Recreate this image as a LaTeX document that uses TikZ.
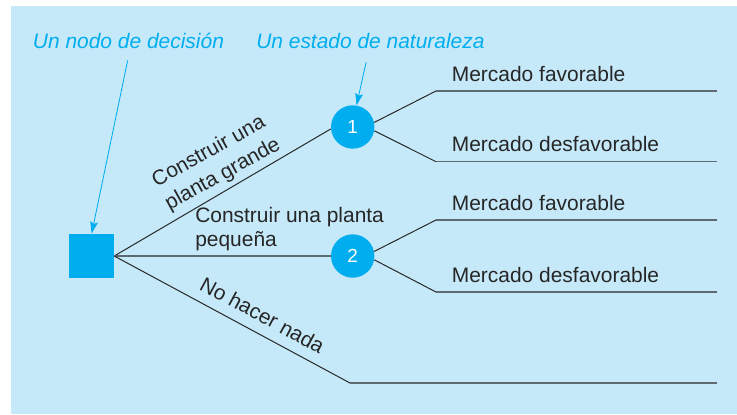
\documentclass[tikz,border=0pt]{standalone}
\usepackage{fontspec}
\setmainfont{Liberation Sans}
\usepackage{tikz}
\usetikzlibrary{arrows.meta,positioning}
\definecolor{treecyan}{HTML}{00AEEF}
\definecolor{treebg}{HTML}{C6E9F9}
\definecolor{treeline}{HTML}{262626}
\definecolor{payline}{HTML}{5E6A72}
\tikzset{
  decnode/.style={rectangle,fill=treecyan,minimum width=1.115cm,minimum height=1.108cm,inner sep=0pt},
  chancenode/.style={circle,fill=treecyan,minimum size=1.085cm,inner sep=0pt,text=white,font=\fontsize{13.5}{16}\selectfont},
  branch/.style={treeline,line width=0.7pt},
  payoff/.style={payline,line width=1.1pt},
  pointer/.style={-{Stealth[length=8.5pt,width=5.5pt,inset=1.5pt]},treecyan,line width=0.6pt},
  calltext/.style={text=treecyan,font=\fontsize{14.9}{17}\selectfont\itshape,inner sep=0pt},
  branchtext/.style={text=black!85,font=\fontsize{14.9}{17}\selectfont,inner sep=0pt,align=left}
}
\begin{document}
\begin{tikzpicture}
\useasboundingbox (0,0) rectangle (18.425,10.35);
\fill[treebg] (0.275,0) rectangle (18.425,10.2);
% nodes of the tree
\node[decnode] (dec) at (2.291,3.95) {};
\node[chancenode] (c1) at (8.8175,7.175) {1};
\node[chancenode] (c2) at (8.8175,3.95) {2};
\foreach \i/\y in {1/8.075,2/6.3075,3/4.85,4/3.05}{\coordinate (k\i) at (10.9,\y);\coordinate (e\i) at (17.93,\y);}
\coordinate (k5) at (8.75,0.775);
\coordinate (e5) at (17.93,0.775);
% branches
\draw[branch] (dec.east) -- (c1.185);
\draw[payoff] (dec.east) -- (c2.west);
\draw[branch] (dec.east) -- (k5);
\draw[branch] (c1.12) -- (k1);
\draw[branch] (c1.-10) -- (k2);
\draw[branch] (c2.12) -- (k3);
\draw[branch] (c2.-10) -- (k4);
\foreach \i in {1,...,5}{\draw[payoff] (k\i) -- (e\i);}
% labels
\node[branchtext,rotate=29,font=\fontsize{14.9}{19}\selectfont] (grande) at (5.4125,6.275) {Construir una\\planta grande};
\node[branchtext,anchor=west] (pequena) at (4.875,4.619) {Construir una planta\\pequeña};
\node[branchtext,rotate=-28.3] (nada) at (6.5625,2.475) {No hacer nada};
\node[branchtext,above right=0.2325cm and 0.39cm of k1] (m1) {Mercado favorable};
\node[branchtext,above right=0.2325cm and 0.39cm of k2] (m2) {Mercado desfavorable};
\node[branchtext,above right=0.2325cm and 0.39cm of k3] (m3) {Mercado favorable};
\node[branchtext,above right=0.2325cm and 0.39cm of k4] (m4) {Mercado desfavorable};
% callouts
\node[calltext,anchor=base west] (lbldec) at (0.8175,9.1425) {Un nodo de decisión};
\node[calltext,anchor=base west] (lblnat) at (6.4,9.1425) {Un estado de naturaleza};
\draw[pointer] (lbldec.south) ++(-0.02,-0.29) -- (dec.north);
\draw[pointer] (lblnat.south) ++(-0.1075,-0.335) -- (c1.80);
\end{tikzpicture}
\end{document}
